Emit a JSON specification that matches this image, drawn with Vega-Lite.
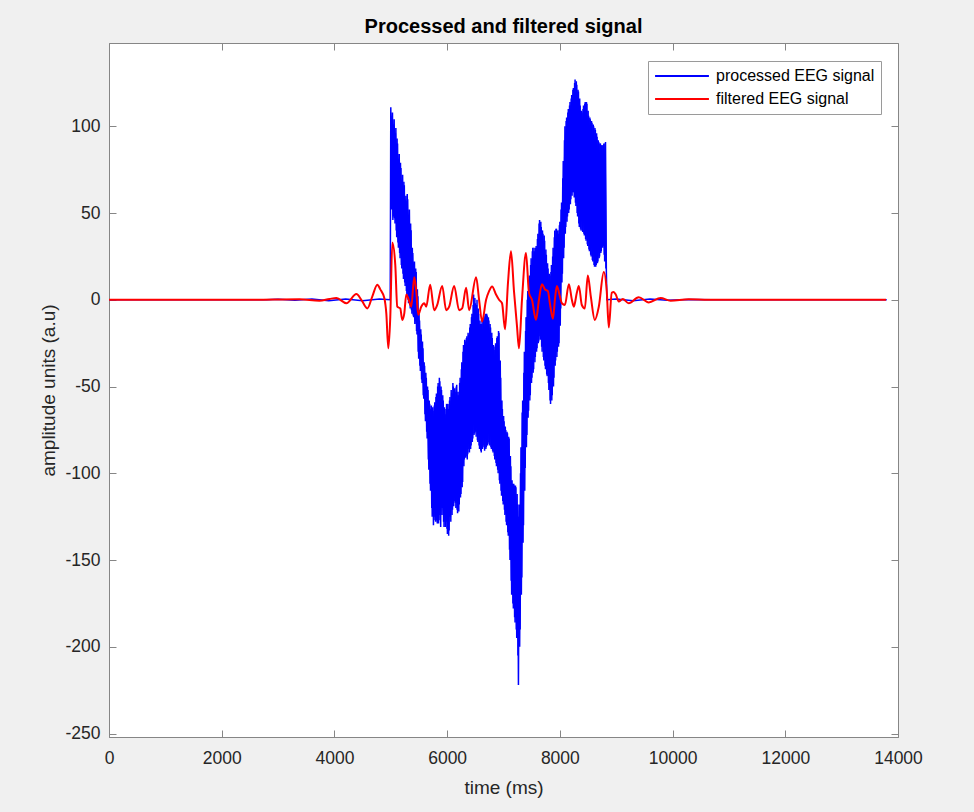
{
  "$schema": "https://vega.github.io/schema/vega-lite/v6.json",
  "width": 789,
  "height": 694,
  "autosize": "none",
  "padding": {"left": 109, "top": 43, "right": 76, "bottom": 75},
  "background": "#f0f0f0",
  "title": {"text": "Processed and filtered signal", "font": "Liberation Sans", "fontSize": 20, "fontWeight": "bold", "color": "#000000", "anchor": "middle", "offset": 6},
  "config": {
    "view": {"fill": "white", "stroke": "#868686", "strokeWidth": 1},
    "axis": {"domainColor": "#868686", "tickColor": "#868686", "labelColor": "#262626", "titleColor": "#262626", "labelFont": "Liberation Sans", "titleFont": "Liberation Sans", "labelFontSize": 17.5, "titleFontSize": 19, "titleFontWeight": "normal", "grid": false, "tickSize": -7, "labelFlush": false, "labelOverlap": false}
  },
  "resolve": {"axis": {"x": "independent", "y": "independent"}},
  "layer": [
    {
      "data": {"values": [
        {"t":0,"v":0},{"t":2800,"v":0},{"t":3000,"v":0.3},{"t":3300,"v":-0.3},{"t":3600,"v":0.5},{"t":3900,"v":-0.6},{"t":4200,"v":0.5},{"t":4500,"v":-0.6},{"t":4800,"v":0.4},{"t":4990,"v":0},
        {"t":5000,"v":111},{"t":5015,"v":52},{"t":5030,"v":108},{"t":5045,"v":48},{"t":5060,"v":104},{"t":5075,"v":44},{"t":5090,"v":99},{"t":5105,"v":36},{"t":5120,"v":90},{"t":5135,"v":30},
        {"t":5150,"v":84},{"t":5165,"v":24},{"t":5180,"v":76},{"t":5195,"v":18},{"t":5210,"v":72},{"t":5225,"v":12},{"t":5240,"v":66},{"t":5255,"v":8},{"t":5270,"v":60},{"t":5285,"v":3},
        {"t":5300,"v":58},{"t":5315,"v":-2},{"t":5330,"v":52},{"t":5345,"v":-5},{"t":5360,"v":40},{"t":5375,"v":-8},{"t":5390,"v":27},{"t":5405,"v":-10},{"t":5420,"v":22},{"t":5435,"v":-12},
        {"t":5450,"v":16},{"t":5465,"v":-20},{"t":5480,"v":2},{"t":5495,"v":-34},{"t":5510,"v":-12},{"t":5525,"v":-41},{"t":5540,"v":-20},{"t":5555,"v":-48},{"t":5570,"v":-28},{"t":5585,"v":-57},
        {"t":5600,"v":-38},{"t":5615,"v":-70},{"t":5630,"v":-45},{"t":5645,"v":-80},{"t":5660,"v":-52},{"t":5675,"v":-98},{"t":5690,"v":-60},{"t":5705,"v":-110},{"t":5720,"v":-61},{"t":5735,"v":-125},
        {"t":5750,"v":-64},{"t":5765,"v":-127},{"t":5780,"v":-59},{"t":5795,"v":-128},{"t":5810,"v":-54},{"t":5825,"v":-129},{"t":5840,"v":-48},{"t":5855,"v":-124},{"t":5870,"v":-47},{"t":5885,"v":-131},
        {"t":5900,"v":-52},{"t":5915,"v":-120},{"t":5930,"v":-58},{"t":5945,"v":-131},{"t":5960,"v":-66},{"t":5975,"v":-128},{"t":5990,"v":-60},{"t":6005,"v":-135},{"t":6020,"v":-63},{"t":6035,"v":-133},
        {"t":6050,"v":-56},{"t":6065,"v":-128},{"t":6080,"v":-54},{"t":6095,"v":-121},{"t":6110,"v":-50},{"t":6125,"v":-116},{"t":6140,"v":-53},{"t":6155,"v":-120},{"t":6170,"v":-49},{"t":6185,"v":-123},
        {"t":6200,"v":-55},{"t":6215,"v":-118},{"t":6230,"v":-45},{"t":6245,"v":-112},{"t":6260,"v":-36},{"t":6275,"v":-105},{"t":6290,"v":-26},{"t":6305,"v":-92},{"t":6320,"v":-24},{"t":6335,"v":-90},
        {"t":6350,"v":-21},{"t":6365,"v":-89},{"t":6380,"v":-20},{"t":6395,"v":-88},{"t":6410,"v":-14},{"t":6425,"v":-84},{"t":6440,"v":-8},{"t":6455,"v":-80},{"t":6470,"v":3},{"t":6485,"v":-77},
        {"t":6500,"v":-2},{"t":6515,"v":-79},{"t":6530,"v":0},{"t":6545,"v":-82},{"t":6560,"v":-8},{"t":6575,"v":-86},{"t":6590,"v":-14},{"t":6605,"v":-88},{"t":6620,"v":-12},{"t":6635,"v":-84},
        {"t":6650,"v":-10},{"t":6665,"v":-87},{"t":6680,"v":-8},{"t":6695,"v":-85},{"t":6710,"v":-9},{"t":6725,"v":-82},{"t":6740,"v":-12},{"t":6755,"v":-84},{"t":6770,"v":-16},{"t":6785,"v":-86},
        {"t":6800,"v":-22},{"t":6815,"v":-88},{"t":6830,"v":-29},{"t":6845,"v":-92},{"t":6860,"v":-25},{"t":6875,"v":-96},{"t":6890,"v":-21},{"t":6905,"v":-100},{"t":6920,"v":-19},{"t":6935,"v":-106},
        {"t":6950,"v":-45},{"t":6965,"v":-113},{"t":6980,"v":-63},{"t":6995,"v":-118},{"t":7010,"v":-70},{"t":7025,"v":-124},{"t":7040,"v":-75},{"t":7055,"v":-130},{"t":7070,"v":-77},{"t":7085,"v":-136},
        {"t":7100,"v":-80},{"t":7115,"v":-150},{"t":7130,"v":-96},{"t":7145,"v":-170},{"t":7160,"v":-106},{"t":7175,"v":-178},{"t":7190,"v":-107},{"t":7205,"v":-186},{"t":7220,"v":-108},{"t":7235,"v":-195},
        {"t":7250,"v":-118},{"t":7265,"v":-222},{"t":7280,"v":-118},{"t":7295,"v":-190},{"t":7310,"v":-85},{"t":7325,"v":-160},{"t":7340,"v":-58},{"t":7355,"v":-130},{"t":7370,"v":-30},{"t":7385,"v":-97},
        {"t":7400,"v":-10},{"t":7415,"v":-78},{"t":7430,"v":5},{"t":7445,"v":-64},{"t":7460,"v":14},{"t":7475,"v":-55},{"t":7490,"v":24},{"t":7505,"v":-45},{"t":7520,"v":30},{"t":7535,"v":-40},
        {"t":7550,"v":28},{"t":7565,"v":-33},{"t":7580,"v":31},{"t":7595,"v":-28},{"t":7610,"v":38},{"t":7625,"v":-24},{"t":7640,"v":46},{"t":7655,"v":-23},{"t":7670,"v":42},{"t":7685,"v":-30},
        {"t":7700,"v":38},{"t":7715,"v":-35},{"t":7730,"v":34},{"t":7745,"v":-40},{"t":7760,"v":26},{"t":7775,"v":-44},{"t":7790,"v":18},{"t":7805,"v":-52},{"t":7820,"v":14},{"t":7835,"v":-60},
        {"t":7850,"v":20},{"t":7865,"v":-55},{"t":7880,"v":30},{"t":7895,"v":-45},{"t":7910,"v":40},{"t":7925,"v":-35},{"t":7940,"v":41},{"t":7955,"v":-30},{"t":7970,"v":38},{"t":7985,"v":-25},
        {"t":8000,"v":45},{"t":8015,"v":-5},{"t":8030,"v":56},{"t":8045,"v":15},{"t":8060,"v":80},{"t":8075,"v":30},{"t":8090,"v":100},{"t":8105,"v":42},{"t":8120,"v":105},{"t":8135,"v":48},
        {"t":8150,"v":110},{"t":8165,"v":52},{"t":8180,"v":114},{"t":8195,"v":58},{"t":8210,"v":118},{"t":8225,"v":62},{"t":8240,"v":122},{"t":8255,"v":59},{"t":8270,"v":127},{"t":8285,"v":54},
        {"t":8300,"v":124},{"t":8315,"v":48},{"t":8330,"v":120},{"t":8345,"v":42},{"t":8360,"v":112},{"t":8375,"v":40},{"t":8390,"v":108},{"t":8405,"v":39},{"t":8420,"v":112},{"t":8435,"v":37},
        {"t":8450,"v":114},{"t":8465,"v":34},{"t":8480,"v":113},{"t":8495,"v":31},{"t":8510,"v":106},{"t":8525,"v":28},{"t":8540,"v":104},{"t":8555,"v":25},{"t":8570,"v":102},{"t":8585,"v":22},
        {"t":8600,"v":100},{"t":8615,"v":19},{"t":8630,"v":98},{"t":8645,"v":20},{"t":8660,"v":94},{"t":8675,"v":22},{"t":8690,"v":91},{"t":8705,"v":25},{"t":8720,"v":90},{"t":8735,"v":28},
        {"t":8750,"v":89},{"t":8765,"v":31},{"t":8780,"v":90},{"t":8795,"v":22},{"t":8810,"v":91},{"t":8825,"v":16},
        {"t":8835,"v":0},{"t":9000,"v":0.4},{"t":9300,"v":-0.5},{"t":9600,"v":0.4},{"t":9900,"v":-0.3},{"t":10300,"v":0.2},{"t":10700,"v":0},{"t":13800,"v":0}
      ]},
      "mark": {"type": "line", "strokeWidth": 1.5, "clip": true},
      "encoding": {
        "x": {"field": "t", "type": "quantitative", "scale": {"domain": [0, 14000], "nice": false, "zero": false},
              "axis": {"orient": "bottom", "values": [0,2000,4000,6000,8000,10000,12000,14000], "title": "time (ms)", "labelPadding": 19, "titlePadding": 12, "labelExpr": "'' + datum.value"}},
        "y": {"field": "v", "type": "quantitative", "scale": {"domain": [-252, 148], "nice": false, "zero": false},
              "axis": {"orient": "left", "values": [-250,-200,-150,-100,-50,0,50,100], "title": "amplitude units (a.u)", "labelPadding": 16, "titlePadding": 6, "labelExpr": "'' + datum.value"}},
        "color": {"datum": "processed EEG signal", "type": "nominal",
                  "scale": {"domain": ["processed EEG signal", "filtered EEG signal"], "range": ["#0000ff", "#ff0000"]},
                  "legend": {"title": null, "orient": "none", "legendX": 539, "legendY": 18, "symbolType": "stroke", "symbolSize": 2900, "symbolStrokeWidth": 2, "clipHeight": 18, "labelFont": "Liberation Sans", "labelFontSize": 16, "labelColor": "#000000", "padding": 6, "strokeColor": "#9a9a9a", "fillColor": "white", "labelOffset": 6, "rowPadding": 5}}
      }
    },
    {
      "data": {"values": [
        {"t":5007,"v":55},{"t":5022,"v":106},{"t":5037,"v":46},{"t":5052,"v":101},{"t":5067,"v":47},{"t":5082,"v":96},{"t":5097,"v":40},{"t":5112,"v":93},{"t":5127,"v":33},{"t":5142,"v":80},
        {"t":5157,"v":27},{"t":5172,"v":79},{"t":5187,"v":20},{"t":5202,"v":69},{"t":5217,"v":15},{"t":5232,"v":68},{"t":5247,"v":10},{"t":5262,"v":57},{"t":5277,"v":5},{"t":5292,"v":61},
        {"t":5307,"v":0},{"t":5322,"v":49},{"t":5337,"v":-3},{"t":5352,"v":44},{"t":5367,"v":-6},{"t":5382,"v":30},{"t":5397,"v":-9},{"t":5412,"v":20},{"t":5427,"v":-14},{"t":5442,"v":18},
        {"t":5457,"v":-18},{"t":5472,"v":6},{"t":5487,"v":-30},{"t":5502,"v":-8},{"t":5517,"v":-38},{"t":5532,"v":-17},{"t":5547,"v":-46},{"t":5562,"v":-24},{"t":5577,"v":-55},{"t":5592,"v":-36},
        {"t":5607,"v":-66},{"t":5622,"v":-42},{"t":5637,"v":-76},{"t":5652,"v":-50},{"t":5667,"v":-92},{"t":5682,"v":-58},{"t":5697,"v":-106},{"t":5712,"v":-63},{"t":5727,"v":-120},{"t":5742,"v":-62},
        {"t":5757,"v":-130},{"t":5772,"v":-61},{"t":5787,"v":-125},{"t":5802,"v":-56},{"t":5817,"v":-127},{"t":5832,"v":-50},{"t":5847,"v":-129},{"t":5862,"v":-45},{"t":5877,"v":-127},{"t":5892,"v":-50},
        {"t":5907,"v":-124},{"t":5922,"v":-55},{"t":5937,"v":-128},{"t":5952,"v":-62},{"t":5967,"v":-131},{"t":5982,"v":-63},{"t":5997,"v":-132},{"t":6012,"v":-60},{"t":6027,"v":-136},{"t":6042,"v":-58},
        {"t":6057,"v":-125},{"t":6072,"v":-52},{"t":6087,"v":-124},{"t":6102,"v":-48},{"t":6117,"v":-119},{"t":6132,"v":-51},{"t":6147,"v":-117},{"t":6162,"v":-50},{"t":6177,"v":-121},{"t":6192,"v":-53},
        {"t":6207,"v":-122},{"t":6222,"v":-48},{"t":6237,"v":-114},{"t":6252,"v":-40},{"t":6267,"v":-108},{"t":6282,"v":-30},{"t":6297,"v":-96},{"t":6312,"v":-23},{"t":6327,"v":-91},{"t":6342,"v":-22},
        {"t":6357,"v":-92},{"t":6372,"v":-19},{"t":6387,"v":-86},{"t":6402,"v":-16},{"t":6417,"v":-86},{"t":6432,"v":-10},{"t":6447,"v":-82},{"t":6462,"v":-3},{"t":6477,"v":-78},{"t":6492,"v":1},
        {"t":6507,"v":-76},{"t":6522,"v":-3},{"t":6537,"v":-81},{"t":6552,"v":-5},{"t":6567,"v":-84},{"t":6582,"v":-12},{"t":6597,"v":-87},{"t":6612,"v":-14},{"t":6627,"v":-86},{"t":6642,"v":-11},
        {"t":6657,"v":-85},{"t":6672,"v":-9},{"t":6687,"v":-86},{"t":6702,"v":-8},{"t":6717,"v":-84},{"t":6732,"v":-10},{"t":6747,"v":-83},{"t":6762,"v":-14},{"t":6777,"v":-85},{"t":6792,"v":-19},
        {"t":6807,"v":-87},{"t":6822,"v":-26},{"t":6837,"v":-90},{"t":6852,"v":-27},{"t":6867,"v":-94},{"t":6882,"v":-22},{"t":6897,"v":-98},{"t":6912,"v":-18},{"t":6927,"v":-104},{"t":6942,"v":-35},
        {"t":6957,"v":-110},{"t":6972,"v":-58},{"t":6987,"v":-116},{"t":7002,"v":-67},{"t":7017,"v":-121},{"t":7032,"v":-73},{"t":7047,"v":-128},{"t":7062,"v":-76},{"t":7077,"v":-134},{"t":7092,"v":-79},
        {"t":7107,"v":-144},{"t":7122,"v":-90},{"t":7137,"v":-162},{"t":7152,"v":-104},{"t":7167,"v":-175},{"t":7182,"v":-106},{"t":7197,"v":-183},{"t":7212,"v":-107},{"t":7227,"v":-190},{"t":7242,"v":-112},
        {"t":7257,"v":-205},{"t":7272,"v":-125},{"t":7287,"v":-200},{"t":7302,"v":-100},{"t":7317,"v":-170},{"t":7332,"v":-65},{"t":7347,"v":-140},{"t":7362,"v":-42},{"t":7377,"v":-110},{"t":7392,"v":-18},
        {"t":7407,"v":-85},{"t":7422,"v":0},{"t":7437,"v":-68},{"t":7452,"v":10},{"t":7467,"v":-58},{"t":7482,"v":20},{"t":7497,"v":-48},{"t":7512,"v":28},{"t":7527,"v":-42},{"t":7542,"v":30},
        {"t":7557,"v":-36},{"t":7572,"v":30},{"t":7587,"v":-30},{"t":7602,"v":35},{"t":7617,"v":-25},{"t":7632,"v":44},{"t":7647,"v":-21},{"t":7662,"v":45},{"t":7677,"v":-27},{"t":7692,"v":40},
        {"t":7707,"v":-33},{"t":7722,"v":37},{"t":7737,"v":-38},{"t":7752,"v":29},{"t":7767,"v":-43},{"t":7782,"v":21},{"t":7797,"v":-48},{"t":7812,"v":15},{"t":7827,"v":-58},{"t":7842,"v":16},
        {"t":7857,"v":-58},{"t":7872,"v":25},{"t":7887,"v":-50},{"t":7902,"v":36},{"t":7917,"v":-38},{"t":7932,"v":41},{"t":7947,"v":-33},{"t":7962,"v":40},{"t":7977,"v":-27},{"t":7992,"v":43},
        {"t":8007,"v":-15},{"t":8022,"v":52},{"t":8037,"v":10},{"t":8052,"v":70},{"t":8067,"v":24},{"t":8082,"v":92},{"t":8097,"v":38},{"t":8112,"v":103},{"t":8127,"v":45},{"t":8142,"v":108},
        {"t":8157,"v":50},{"t":8172,"v":112},{"t":8187,"v":55},{"t":8202,"v":116},{"t":8217,"v":60},{"t":8232,"v":121},{"t":8247,"v":62},{"t":8262,"v":125},{"t":8277,"v":56},{"t":8292,"v":126},
        {"t":8307,"v":50},{"t":8322,"v":121},{"t":8337,"v":44},{"t":8352,"v":116},{"t":8367,"v":41},{"t":8382,"v":109},{"t":8397,"v":40},{"t":8412,"v":110},{"t":8427,"v":38},{"t":8442,"v":113},
        {"t":8457,"v":35},{"t":8472,"v":114},{"t":8487,"v":32},{"t":8502,"v":109},{"t":8517,"v":29},{"t":8532,"v":105},{"t":8547,"v":26},{"t":8562,"v":103},{"t":8577,"v":23},{"t":8592,"v":101},
        {"t":8607,"v":20},{"t":8622,"v":99},{"t":8637,"v":19},{"t":8652,"v":96},{"t":8667,"v":21},{"t":8682,"v":92},{"t":8697,"v":24},{"t":8712,"v":90},{"t":8727,"v":27},{"t":8742,"v":89},
        {"t":8757,"v":30},{"t":8772,"v":89},{"t":8787,"v":26},{"t":8802,"v":90},{"t":8817,"v":18}
      ]},
      "mark": {"type": "line", "strokeWidth": 1.5, "clip": true},
      "encoding": {
        "x": {"field": "t", "type": "quantitative", "axis": null},
        "y": {"field": "v", "type": "quantitative", "axis": null},
        "color": {"datum": "processed EEG signal", "type": "nominal"}
      }
    },
    {
      "data": {"values": [
        {"t":0,"v":0},{"t":2496,"v":0},{"t":3381,"v":0.3},{"t":3735,"v":-0.5},{"t":3912,"v":0.5},{"t":4036,"v":1},{"t":4213,"v":-2},{"t":4390,"v":3.3},{"t":4478,"v":0},{"t":4584,"v":-5},
        {"t":4673,"v":2},{"t":4761,"v":8.7},{"t":4814,"v":6},{"t":4885,"v":1},{"t":4921,"v":-8},{"t":4956,"v":-28},{"t":4991,"v":-10},{"t":5027,"v":33},{"t":5080,"v":20},{"t":5115,"v":-4},
        {"t":5168,"v":-5},{"t":5204,"v":-11.6},{"t":5239,"v":-8},{"t":5275,"v":3},{"t":5310,"v":1},{"t":5363,"v":-4},{"t":5416,"v":13},{"t":5452,"v":5},{"t":5487,"v":-8.7},{"t":5540,"v":-4},
        {"t":5593,"v":-2},{"t":5629,"v":-4},{"t":5699,"v":8.7},{"t":5770,"v":-6},{"t":5823,"v":-3},{"t":5912,"v":8},{"t":5983,"v":-6},{"t":6036,"v":-4},{"t":6124,"v":8},{"t":6213,"v":-6},
        {"t":6266,"v":-5},{"t":6337,"v":7},{"t":6390,"v":-6},{"t":6514,"v":13},{"t":6567,"v":0},{"t":6620,"v":-12.5},{"t":6691,"v":0},{"t":6744,"v":5},{"t":6797,"v":7.7},{"t":6868,"v":3},
        {"t":6921,"v":0},{"t":6974,"v":-2},{"t":7027,"v":-17},{"t":7080,"v":10},{"t":7133,"v":28},{"t":7186,"v":5},{"t":7239,"v":-15},{"t":7275,"v":-28},{"t":7328,"v":0},{"t":7399,"v":27},
        {"t":7452,"v":4},{"t":7505,"v":0},{"t":7576,"v":-11.6},{"t":7629,"v":0},{"t":7682,"v":9},{"t":7735,"v":6},{"t":7788,"v":5},{"t":7823,"v":-2},{"t":7877,"v":-11},{"t":7912,"v":0},
        {"t":7947,"v":8},{"t":8000,"v":2},{"t":8036,"v":-2},{"t":8089,"v":-3},{"t":8160,"v":9},{"t":8213,"v":0},{"t":8248,"v":-4},{"t":8301,"v":4},{"t":8337,"v":8},{"t":8390,"v":-3},
        {"t":8443,"v":-5},{"t":8496,"v":14},{"t":8549,"v":2},{"t":8620,"v":-11.6},{"t":8691,"v":-4},{"t":8779,"v":16},{"t":8832,"v":5},{"t":8868,"v":-16},{"t":8921,"v":4},{"t":8956,"v":4.5},
        {"t":8992,"v":3},{"t":9045,"v":-1},{"t":9116,"v":0.5},{"t":9222,"v":-2},{"t":9399,"v":1.5},{"t":9576,"v":-1.5},{"t":9788,"v":1},{"t":9965,"v":-0.5},{"t":10284,"v":0.3},{"t":10638,"v":0},{"t":13788,"v":0}
      ]},
      "mark": {"type": "line", "strokeWidth": 2, "interpolate": "monotone", "clip": true},
      "encoding": {
        "x": {"field": "t", "type": "quantitative", "axis": {"orient": "top", "values": [0,2000,4000,6000,8000,10000,12000,14000], "labels": false, "title": null, "domain": false}},
        "y": {"field": "v", "type": "quantitative", "axis": {"orient": "right", "values": [-250,-200,-150,-100,-50,0,50,100], "labels": false, "title": null, "domain": false}},
        "color": {"datum": "filtered EEG signal", "type": "nominal"}
      }
    }
  ]
}
